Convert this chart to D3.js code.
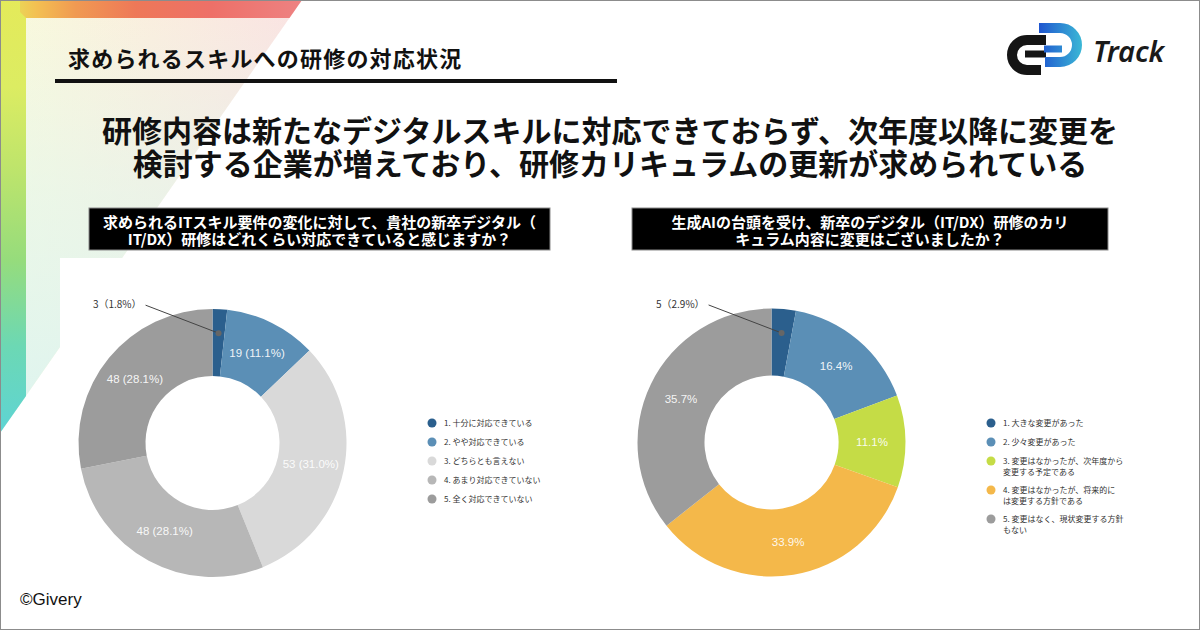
<!DOCTYPE html>
<html>
<head>
<meta charset="utf-8">
<script src="https://cdn.jsdelivr.net/npm/d3@7"></script>
<style>
  body { margin: 0; background: #fff; }
  svg { display: block; }
</style>
</head>
<body>
<div id="chart"></div>
<script>
// ---- data ----
const sectionTitle = "求められるスキルへの研修の対応状況";
const headline = [
  "研修内容は新たなデジタルスキルに対応できておらず、次年度以降に変更を",
  "検討する企業が増えており、研修カリキュラムの更新が求められている"
];

const leftQuestion = [
  "求められるITスキル要件の変化に対して、貴社の新卒デジタル（",
  "IT/DX）研修はどれくらい対応できていると感じますか？"
];
const leftCategories = [
  ["1. 十分に対応できている"],
  ["2. やや対応できている"],
  ["3. どちらとも言えない"],
  ["4. あまり対応できていない"],
  ["5. 全く対応できていない"]
];
const leftCounts = [3, 19, 53, 48, 48];
const leftPercents = [1.8, 11.1, 31.0, 28.1, 28.1];

const rightQuestion = [
  "生成AIの台頭を受け、新卒のデジタル（IT/DX）研修のカリ",
  "キュラム内容に変更はございましたか？"
];
const rightCategories = [
  ["1. 大きな変更があった"],
  ["2. 少々変更があった"],
  ["3. 変更はなかったが、次年度から", "変更する予定である"],
  ["4. 変更はなかったが、将来的に", "は変更する方針である"],
  ["5. 変更はなく、現状変更する方針", "もない"]
];
const rightCounts = [5, 28, 19, 58, 61];
const rightPercents = [2.9, 16.4, 11.1, 33.9, 35.7];

// ---- setup ----
const width = 1200, height = 630;
const jp = "'Noto Sans CJK JP', 'Noto Sans', sans-serif";
const latin = "'Liberation Sans', Arial, sans-serif";

const svg = d3.select("#chart").append("svg")
  .attr("width", width)
  .attr("height", height);

const defs = svg.append("defs");

function gradient(id, x1, y1, x2, y2, stops) {
  const g = defs.append("linearGradient")
    .attr("id", id)
    .attr("gradientUnits", "userSpaceOnUse")
    .attr("x1", x1).attr("y1", y1).attr("x2", x2).attr("y2", y2);
  g.selectAll("stop").data(stops).join("stop")
    .attr("offset", d => d[0])
    .attr("stop-color", d => d[1])
    .attr("stop-opacity", d => d[2] == null ? 1 : d[2]);
}

gradient("paleH", 0, 0, 302, 0, [[0, "#f9fbdc"], [0.5, "#fbeede"], [1, "#fbe2e2"]]);
gradient("paleV", 0, 0, 0, 433, [[0, "#e2f6ee", 0], [0.45, "#e2f6ee", 0.6], [1, "#ddf4f0", 1]]);
gradient("stripeTop", 0, 0, 302, 0, [[0, "#e2ea5c"], [0.12, "#f3c052"], [0.25, "#f09a52"], [0.45, "#ee7858"], [0.7, "#ee7068"], [1, "#ee8282"]]);
gradient("stripeLeft", 0, 0, 0, 433, [[0, "#e4ea5a"], [0.2, "#dcec62"], [0.4, "#bce46c"], [0.6, "#96dc7c"], [0.8, "#6cd8b4"], [1, "#5ed4d4"]]);
gradient("logoBlue", 1036, 0, 1084, 0, [[0, "#1d4fcf"], [1, "#3cbcd6"]]);

// ---- corner decoration ----
svg.append("polygon").attr("points", "0,0 302,0 0,433").attr("fill", "url(#paleH)");
svg.append("polygon").attr("points", "0,0 302,0 0,433").attr("fill", "url(#paleV)");
svg.append("polygon").attr("points", "0,0 26,0 26,396 0,433").attr("fill", "url(#stripeLeft)");
svg.append("polygon").attr("points", "20,0 302,0 289.5,18 26,18 20,12").attr("fill", "url(#stripeTop)");

// white chart panel
svg.append("rect")
  .attr("x", 60).attr("y", 258)
  .attr("width", width - 60).attr("height", height - 258)
  .attr("fill", "#fff");

// ---- section title ----
svg.append("text")
  .attr("x", 68).attr("y", 67)
  .attr("font-family", jp)
  .attr("font-weight", 700)
  .attr("font-size", 22)
  .attr("letter-spacing", 1.2)
  .attr("fill", "#111")
  .text(sectionTitle);

svg.append("line")
  .attr("x1", 55).attr("x2", 617)
  .attr("y1", 81).attr("y2", 81)
  .attr("stroke", "#111")
  .attr("stroke-width", 4);

// ---- logo ----
const logo = svg.append("g");
logo.append("path")
  .attr("d", "M1046,40 H1027 A15,15 0 0 0 1027,70 H1041")
  .attr("fill", "none").attr("stroke", "#151515").attr("stroke-width", 10);
logo.append("path")
  .attr("d", "M1025,54 H1046")
  .attr("fill", "none").attr("stroke", "#151515").attr("stroke-width", 7);
logo.append("path")
  .attr("d", "M1039,28 H1060 A17,17 0 0 1 1060,62 H1045")
  .attr("fill", "none").attr("stroke", "url(#logoBlue)").attr("stroke-width", 10);
logo.append("path")
  .attr("d", "M1044,49 H1062")
  .attr("fill", "none").attr("stroke", "url(#logoBlue)").attr("stroke-width", 7);
logo.append("text")
  .attr("x", 1093).attr("y", 62)
  .attr("font-family", "'Noto Sans', sans-serif")
  .attr("font-style", "italic")
  .attr("font-weight", 600)
  .attr("font-size", 29)
  .attr("fill", "#1a1a1a")
  .text("Track");

// ---- headline ----
svg.append("g").selectAll("text")
  .data(headline)
  .join("text")
  .attr("x", 610)
  .attr("y", (d, i) => 142 + i * 33)
  .attr("text-anchor", "middle")
  .attr("font-family", jp)
  .attr("font-weight", 700)
  .attr("font-size", 30)
  .attr("fill", "#111")
  .text(d => d);

// ---- question boxes ----
function questionBox(x, w, lines) {
  const g = svg.append("g");
  g.append("rect")
    .attr("x", x).attr("y", 208)
    .attr("width", w).attr("height", 42)
    .attr("fill", "#000")
    .attr("stroke", "#8a8a8a")
    .attr("stroke-width", 1);
  g.selectAll("text").data(lines).join("text")
    .attr("x", x + w / 2)
    .attr("y", (d, i) => 227.5 + i * 17)
    .attr("text-anchor", "middle")
    .attr("font-family", jp)
    .attr("font-weight", 700)
    .attr("font-size", 15)
    .attr("fill", "#fff")
    .text(d => d);
}
questionBox(89, 461, leftQuestion);
questionBox(632, 476, rightQuestion);

// ---- donuts ----
const outerR = 134, innerR = 67;
const leftColor = d3.scaleOrdinal()
  .domain(d3.range(5))
  .range(["#2b5f8d", "#5b8fb6", "#d9d9d9", "#b7b7b7", "#9c9c9c"]);
const rightColor = d3.scaleOrdinal()
  .domain(d3.range(5))
  .range(["#2b5f8d", "#5b8fb6", "#c5dc46", "#f4b84a", "#9c9c9c"]);

function donut(cx, cy, counts, percents, color, insideText) {
  const data = counts.map((c, i) => ({ i, count: c, pct: percents[i] }));
  const pie = d3.pie().sort(null).value(d => d.count);
  const arc = d3.arc().innerRadius(innerR).outerRadius(outerR);
  const dotArc = d3.arc().innerRadius(110).outerRadius(110);
  const arcs = pie(data);

  const g = svg.append("g").attr("transform", `translate(${cx},${cy})`);

  g.selectAll("path").data(arcs).join("path")
    .attr("d", arc)
    .attr("fill", d => color(d.data.i));

  g.selectAll("text.inside")
    .data(arcs.filter(d => d.data.pct >= 5))
    .join("text")
    .attr("class", "inside")
    .attr("transform", d => `translate(${arc.centroid(d)})`)
    .attr("text-anchor", "middle")
    .attr("dy", "0.35em")
    .attr("font-family", latin)
    .attr("font-size", 11.5)
    .attr("fill", "#fff")
    .attr("fill-opacity", 0.92)
    .text(insideText);

  const small = arcs.filter(d => d.data.pct < 5);
  small.forEach(d => {
    const [dx, dy] = dotArc.centroid(d);
    g.append("line")
      .attr("x1", dx - 73).attr("y1", dy - 28)
      .attr("x2", dx).attr("y2", dy)
      .attr("stroke", "#444").attr("stroke-width", 1);
    g.append("circle")
      .attr("cx", dx).attr("cy", dy).attr("r", 3)
      .attr("fill", "#666");
    g.append("text")
      .attr("x", dx - 77).attr("y", dy - 25)
      .attr("text-anchor", "end")
      .attr("font-family", jp)
      .attr("font-size", 10)
      .attr("fill", "#333")
      .text(`${d.data.count}（${d.data.pct.toFixed(1)}%）`);
  });
}

donut(212.5, 443, leftCounts, leftPercents, leftColor,
  d => `${d.data.count} (${d.data.pct.toFixed(1)}%)`);
donut(771.5, 442.5, rightCounts, rightPercents, rightColor,
  d => `${d.data.pct.toFixed(1)}%`);

// ---- legends ----
function legend(x, y0, categories, color) {
  const g = svg.append("g").attr("transform", `translate(${x},0)`);
  let y = y0;
  categories.forEach((lines, i) => {
    const row = g.append("g").attr("transform", `translate(0,${y})`);
    row.append("circle").attr("r", 4.5).attr("fill", color(i));
    row.selectAll("text").data(lines).join("text")
      .attr("x", 12)
      .attr("y", (d, j) => j * 11)
      .attr("dy", "0.35em")
      .attr("font-family", jp)
      .attr("font-size", 8)
      .attr("fill", "#333")
      .text(d => d);
    y += 19 + (lines.length - 1) * 10;
  });
}
legend(432, 423, leftCategories, leftColor);
legend(991, 423, rightCategories, rightColor);

// ---- footer ----
svg.append("text")
  .attr("x", 20).attr("y", 605)
  .attr("font-family", latin)
  .attr("font-size", 17)
  .attr("fill", "#111")
  .text("©Givery");

// outer frame
svg.append("rect")
  .attr("x", 0.5).attr("y", 0.5)
  .attr("width", width - 1).attr("height", height - 1)
  .attr("fill", "none")
  .attr("stroke", "#8c8c8c")
  .attr("stroke-width", 1);
</script>
</body>
</html>
